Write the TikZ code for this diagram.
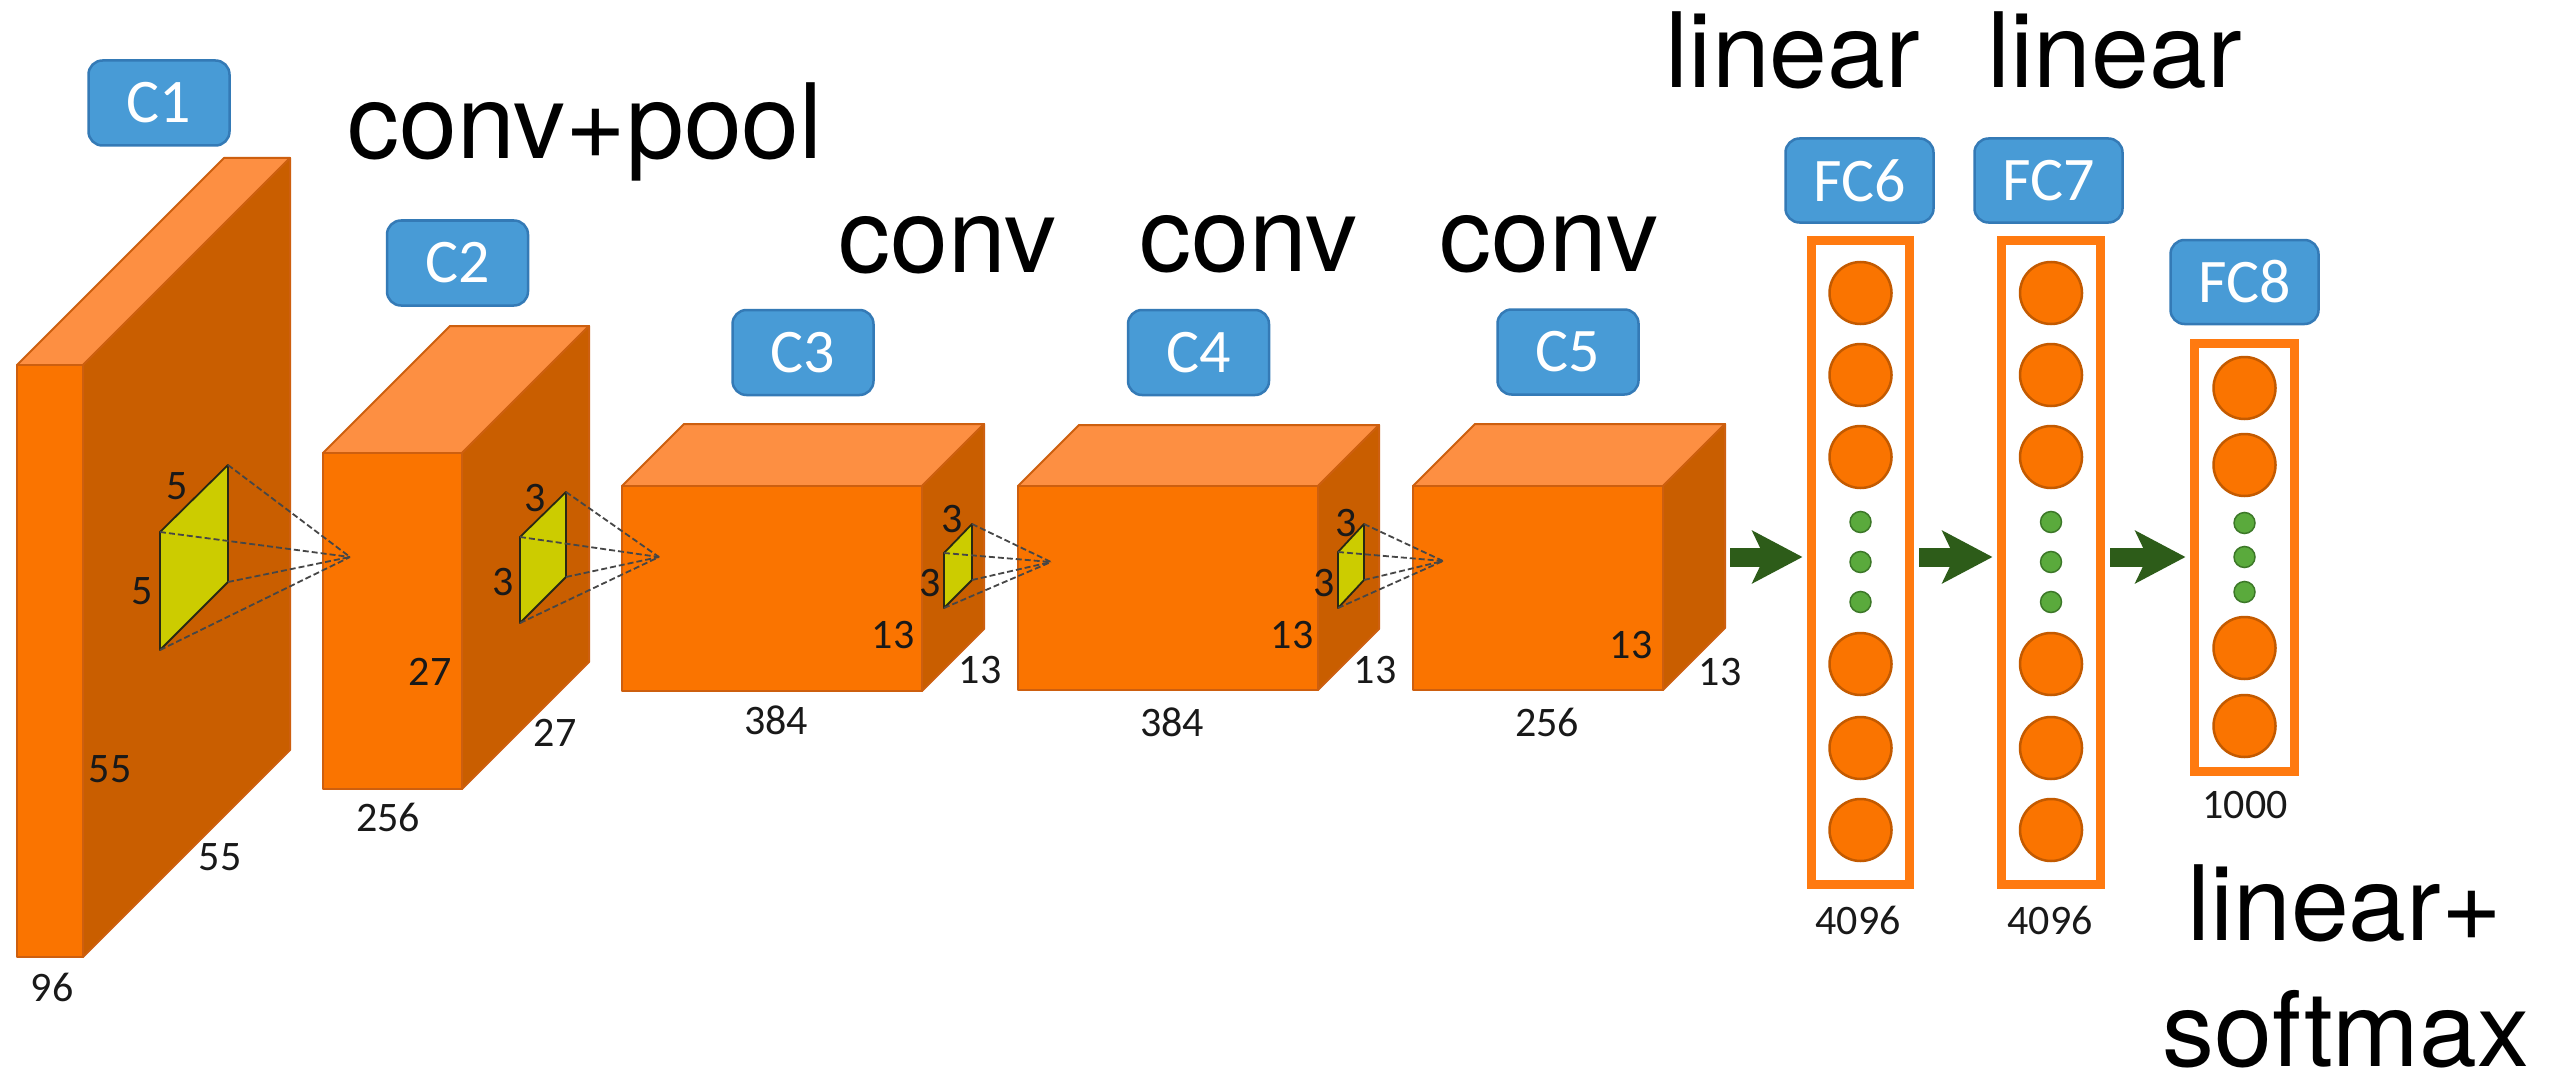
\documentclass[tikz,border=0pt]{standalone}
\usepackage{fontspec}
\setmainfont{TeX Gyre Heros}
\newfontfamily\numfont{Carlito}
\newfontfamily\lblfont{Carlito}
\usetikzlibrary{arrows.meta}
\definecolor{frontc}{RGB}{250,116,0}
\definecolor{topc}{RGB}{253,143,66}
\definecolor{sidec}{RGB}{201,94,0}
\definecolor{edgec}{RGB}{205,95,15}
\definecolor{kernc}{RGB}{204,204,0}
\definecolor{kernedge}{RGB}{40,40,20}
\definecolor{dashc}{RGB}{70,70,70}
\definecolor{lblc}{RGB}{72,155,214}
\definecolor{lbledge}{RGB}{52,122,182}
\definecolor{numc}{RGB}{25,25,25}
\definecolor{fcc}{RGB}{255,122,16}
\definecolor{circedge}{RGB}{195,90,0}
\definecolor{dotc}{RGB}{90,170,60}
\definecolor{dotedge}{RGB}{60,120,40}
\definecolor{arrowc}{RGB}{45,92,25}
\tikzset{
  blockedge/.style={draw=edgec, line width=2pt, line join=round},
  kernelbox/.style={fill=kernc, draw=kernedge, line width=1.8pt, line join=round},
  rf/.style={draw=dashc, line width=1.8pt, dash pattern=on 6pt off 3pt},
  lbl/.style={fill=lblc, draw=lbledge, line width=2.5pt, rounded corners=14pt, text=white,
    font=\lblfont\fontsize{62}{62}\selectfont, inner sep=0pt, minimum width=141pt, minimum height=85pt},
  num/.style={font=\numfont\fontsize{42}{42}\selectfont, text=numc, inner sep=0pt},
  big/.style={font=\fontsize{104}{110}\selectfont, inner sep=0pt, anchor=base},
  fcbox/.style={draw=fcc, line width=9pt, inner sep=0pt},
  neuron/.style={circle, fill=frontc, draw=circedge, line width=2.5pt, minimum size=62pt, inner sep=0pt},
  dotn/.style={circle, fill=dotc, draw=dotedge, line width=1.5pt, minimum size=21pt, inner sep=0pt},
  flow/.style={draw=arrowc, line width=19pt, line cap=butt, shorten >=4.5pt,
    -{Stealth[length=50pt, width=52pt, inset=12pt]}},
}
\newcommand\cnnblock[5]{%
  \filldraw[blockedge, fill=topc] (#1,#2) -- ({#1+#5},{#2-#5}) -- ({#1+#3+#5},{#2-#5}) -- ({#1+#3},#2) -- cycle;
  \filldraw[blockedge, fill=sidec] ({#1+#3},#2) -- ({#1+#3+#5},{#2-#5}) -- ({#1+#3+#5},{#2+#4-#5}) -- ({#1+#3},{#2+#4}) -- cycle;
  \filldraw[blockedge, fill=frontc] (#1,#2) rectangle ({#1+#3},{#2+#4});
}
\begin{document}
\begin{tikzpicture}[x=1pt,y=-1pt]
\useasboundingbox[fill=white] (0,0) rectangle (2553,1078);

% ---- conv blocks
\cnnblock{17}{365}{66}{592}{207}
\cnnblock{323}{453}{139}{336}{127}
\cnnblock{622}{486}{300}{205}{62}
\cnnblock{1018}{486}{300}{204}{61}
\cnnblock{1413}{486}{250}{204}{62}

% ---- kernels
\coordinate (k1a) at (228,465); \coordinate (k1b) at (160,532);
\coordinate (k1c) at (160,650); \coordinate (k1d) at (228,582);
\coordinate (ap1) at (350,557);
\coordinate (k2a) at (566,492); \coordinate (k2b) at (520,537);
\coordinate (k2c) at (520,623); \coordinate (k2d) at (566,577);
\coordinate (ap2) at (659,557);
\coordinate (k3a) at (972,524); \coordinate (k3b) at (944,553);
\coordinate (k3c) at (944,608); \coordinate (k3d) at (972,580);
\coordinate (ap3) at (1051,562);
\coordinate (k4a) at (1364,524); \coordinate (k4b) at (1338,552);
\coordinate (k4c) at (1338,608); \coordinate (k4d) at (1364,580);
\coordinate (ap4) at (1443,561);
\foreach \k in {1,2,3,4}{
  \filldraw[kernelbox] (k\k b) -- (k\k a) -- (k\k d) -- (k\k c) -- cycle;
  \draw[rf] (k\k a) -- (ap\k);
  \draw[rf] (k\k b) -- (ap\k);
  \draw[rf] (k\k c) -- (ap\k);
  \draw[rf] (k\k d) -- (ap\k);
}

% ---- dimension numbers
\node[num] (d1k1) at (177,486) {5};
\node[num] (d1k2) at (142,591) {5};
\node[num] (d1h) at (110,769) {55};
\node[num] (d1w) at (220,857) {55};
\node[num] (d1c) at (52,987) {96};
\node[num] (d2k1) at (535,498) {3};
\node[num] (d2k2) at (503,582) {3};
\node[num] (d2h) at (430,672) {27};
\node[num] (d2w) at (555,733) {27};
\node[num] (d2c) at (388,817) {256};
\node[num] (d3k1) at (952,519) {3};
\node[num] (d3k2) at (930,583) {3};
\node[num] (d3h) at (893,635) {13};
\node[num] (d3w) at (980,670) {13};
\node[num] (d3c) at (776,720) {384};
\node[num] (d4k1) at (1346,523) {3};
\node[num] (d4k2) at (1324,583) {3};
\node[num] (d4h) at (1292,635) {13};
\node[num] (d4w) at (1375,670) {13};
\node[num] (d4c) at (1172,722) {384};
\node[num] (d5h) at (1631,645) {13};
\node[num] (d5w) at (1720,672) {13};
\node[num] (d5c) at (1547,722) {256};

% ---- layer labels
\node[lbl] (lc1) at (159,103) {C1};
\node[lbl] (lc2) at (457.5,263) {C2};
\node[lbl] (lc3) at (803,352.5) {C3};
\node[lbl] (lc4) at (1198.5,352.5) {C4};
\node[lbl] (lc5) at (1568,352) {C5};
\node[lbl, minimum width=148pt, minimum height=84pt] (lfc6) at (1859.5,180.5) {FC6};
\node[lbl, minimum width=148pt, minimum height=84pt] (lfc7) at (2048.5,180.5) {FC7};
\node[lbl, minimum width=148pt, minimum height=84pt] (lfc8) at (2244.5,282) {FC8};

% ---- fully connected layers
\node[fcbox, minimum width=98pt, minimum height=644pt] (fc6box) at (1860.5,562.5) {};
\node[fcbox, minimum width=99pt, minimum height=644pt] (fc7box) at (2051,562.5) {};
\node[fcbox, minimum width=100pt, minimum height=428pt] (fc8box) at (2244.5,557.5) {};
\foreach \yy [count=\i] in {293,375,457,664,748,830}{
  \node[neuron] (n6-\i) at (1860.5,\yy) {};
  \node[neuron] (n7-\i) at (2051,\yy) {};
}
\foreach \yy [count=\i] in {522,562,602}{
  \node[dotn] (g6-\i) at (1860.5,\yy) {};
  \node[dotn] (g7-\i) at (2051,\yy) {};
}
\foreach \yy [count=\i] in {388,465,648,726}{
  \node[neuron] (n8-\i) at (2244.5,\yy) {};
}
\foreach \yy [count=\i] in {523,557,592}{
  \node[dotn] (g8-\i) at (2244.5,\yy) {};
}
\node[num] (d6) at (1858,920) {4096};
\node[num] (d7) at (2050,920) {4096};
\node[num] (d8) at (2245,805) {1000};

% ---- arrows
\coordinate (ar1) at (1730,557);
\coordinate (ar2) at (1919,557);
\coordinate (ar3) at (2110,557);
\draw[flow] (ar1) -- (ar1 -| fc6box.west);
\draw[flow] (ar2) -- (ar2 -| fc7box.west);
\draw[flow] (ar3) -- (ar3 -| fc8box.west);

% ---- operation texts
\node[big] (tconvpool) at (585,159) {conv+pool};
\node[big] (tconv3) at (947.5,272) {conv};
\node[big] (tconv4) at (1248.5,271) {conv};
\node[big] (tconv5) at (1549,271) {conv};
\node[big] (tlin6) at (1793,88) {linear};
\node[big] (tlin7) at (2114.5,88) {linear};
\node[big] (tlin8) at (2344.5,940) {linear+};
\node[big] (tsoft) at (2346,1066) {softmax};
\end{tikzpicture}
\end{document}
